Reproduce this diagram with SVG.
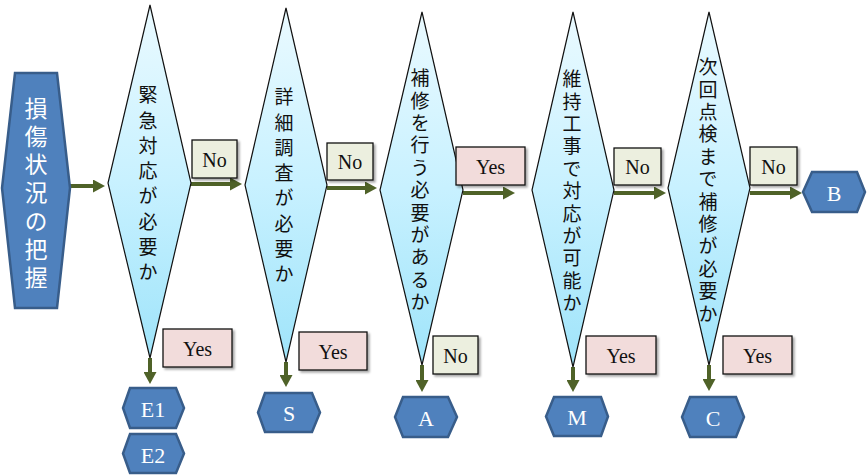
<svg xmlns="http://www.w3.org/2000/svg" width="867" height="475" viewBox="0 0 867 475">
<defs>
<linearGradient id="dg" x1="0" y1="0" x2="0" y2="1">
<stop offset="0" stop-color="#EAFAFF"/>
<stop offset="0.5" stop-color="#C8F1FF"/>
<stop offset="1" stop-color="#9FE4FA"/>
</linearGradient>
<marker id="ah" markerUnits="userSpaceOnUse" markerWidth="12" markerHeight="13" refX="1" refY="6.5" orient="auto">
<path d="M0,0 L12,6.5 L0,13 z" fill="#4F6228"/>
</marker>
<filter id="sh" x="-20%" y="-20%" width="150%" height="150%">
<feDropShadow dx="2" dy="2" stdDeviation="1.2" flood-color="#000" flood-opacity="0.35"/>
</filter>
</defs>
<style>
.dia{fill:url(#dg);stroke:#111;stroke-width:1.2}
.dt{font-family:"Noto Sans CJK JP","Noto Sans CJK SC",sans-serif;font-size:19px;fill:#111;writing-mode:vertical-rl;text-orientation:upright}
.d8{letter-spacing:6.3px}
.d11{letter-spacing:3.4px}
.hex{fill:#4F81BD;stroke:#385D8A;stroke-width:2.5}
.ht{font-family:"Liberation Serif",serif;font-size:22px;fill:#fff;text-anchor:middle;dominant-baseline:central}
.big{font-family:"Noto Sans CJK JP","Noto Sans CJK SC",sans-serif;font-size:23px;fill:#fff;writing-mode:vertical-rl;text-orientation:upright;letter-spacing:5.2px}
.yes{fill:#F2DCDB;stroke:#111;stroke-width:1.3;filter:url(#sh)}
.no{fill:#ECEFDF;stroke:#111;stroke-width:1.3;filter:url(#sh)}
.lt{font-family:"Liberation Serif",serif;font-size:20px;fill:#111;text-anchor:middle;dominant-baseline:central}
.cn{stroke:#4F6228;stroke-width:4;fill:none;marker-end:url(#ah)}
</style>

<g id="connectors">
<line class="cn" x1="70" y1="186" x2="94" y2="186"/>
<line class="cn" x1="191" y1="184" x2="231" y2="184"/>
<line class="cn" x1="327" y1="188" x2="366" y2="188"/>
<line class="cn" x1="463" y1="193" x2="504" y2="193"/>
<line class="cn" x1="614" y1="193" x2="655" y2="193"/>
<line class="cn" x1="750" y1="193" x2="791" y2="193"/>
<line class="cn" x1="150" y1="358" x2="150" y2="373"/>
<line class="cn" x1="286" y1="362" x2="286" y2="376"/>
<line class="cn" x1="422" y1="365" x2="422" y2="381"/>
<line class="cn" x1="573" y1="367" x2="573" y2="381"/>
<line class="cn" x1="709" y1="365" x2="709" y2="380"/>
</g>

<g id="start">
<polygon class="hex" points="15,73 57,73 70,188 57,308 15,308 2,188"/>
<text class="big" x="36" y="96.5">損傷状況の把握</text>
</g>

<g id="q1">
<polygon class="dia" points="150,5 191,183 150,358 108,183"/>
<text class="dt d8" x="148" y="85.5">緊急対応が必要か</text>
</g>

<g id="q2">
<polygon class="dia" points="286,8 327,185 286,362 245,185"/>
<text class="dt d8" x="284" y="87.5">詳細調査が必要か</text>
</g>

<g id="q3">
<polygon class="dia" points="422,12 463,190 422,365 380,190"/>
<text class="dt d11" x="420" y="68.5">補修を行う必要があるか</text>
</g>

<g id="q4">
<polygon class="dia" points="573,12 614,190 573,367 532,190"/>
<text class="dt d11" x="572" y="69.5">維持工事で対応が可能か</text>
</g>

<g id="q5">
<polygon class="dia" points="709,12 750,188 709,365 668,188"/>
<text class="dt d11" x="708" y="57.5">次回点検まで補修が必要か</text>
</g>

<g id="E1"><polygon class="hex" points="130,388 176,388 184,408 176,428 130,428 123,408"/><text class="ht" x="153" y="409">E1</text></g>
<g id="E2"><polygon class="hex" points="130,434 176,434 184,453.5 176,473 130,473 123,453.5"/><text class="ht" x="153" y="455">E2</text></g>
<g id="S"><polygon class="hex" points="265,393 312,393 320,412.5 312,432 265,432 258,412.5"/><text class="ht" x="289" y="413">S</text></g>
<g id="A"><polygon class="hex" points="403,397 448,397 457,417 448,437 403,437 395,417"/><text class="ht" x="426" y="418">A</text></g>
<g id="M"><polygon class="hex" points="554,397 601,397 608,416.5 601,436 554,436 546,416.5"/><text class="ht" x="577" y="417">M</text></g>
<g id="C"><polygon class="hex" points="690,397 736,397 744,417 736,437 690,437 682,417"/><text class="ht" x="713" y="418">C</text></g>
<g id="B"><polygon class="hex" points="812,172 857,172 865,192 857,212 812,212 803,192"/><text class="ht" x="834" y="193">B</text></g>

<g id="labels">
<rect class="no" x="192" y="140" width="45" height="38"/><text class="lt" x="214.5" y="160">No</text>
<rect class="yes" x="163" y="329" width="69" height="38"/><text class="lt" x="197.5" y="349">Yes</text>
<rect class="no" x="327" y="143" width="46" height="37"/><text class="lt" x="350" y="162">No</text>
<rect class="yes" x="299" y="332" width="68" height="38"/><text class="lt" x="333" y="352">Yes</text>
<rect class="yes" x="456" y="147" width="69" height="38"/><text class="lt" x="490.5" y="167">Yes</text>
<rect class="no" x="433" y="336" width="45" height="38"/><text class="lt" x="455.5" y="356">No</text>
<rect class="no" x="614" y="148" width="47" height="37"/><text class="lt" x="637.5" y="167">No</text>
<rect class="yes" x="586" y="336" width="70" height="38"/><text class="lt" x="621" y="356">Yes</text>
<rect class="no" x="750" y="147" width="47" height="38"/><text class="lt" x="773.5" y="167">No</text>
<rect class="yes" x="723" y="336" width="69" height="38"/><text class="lt" x="757.5" y="356">Yes</text>
</g>
</svg>
